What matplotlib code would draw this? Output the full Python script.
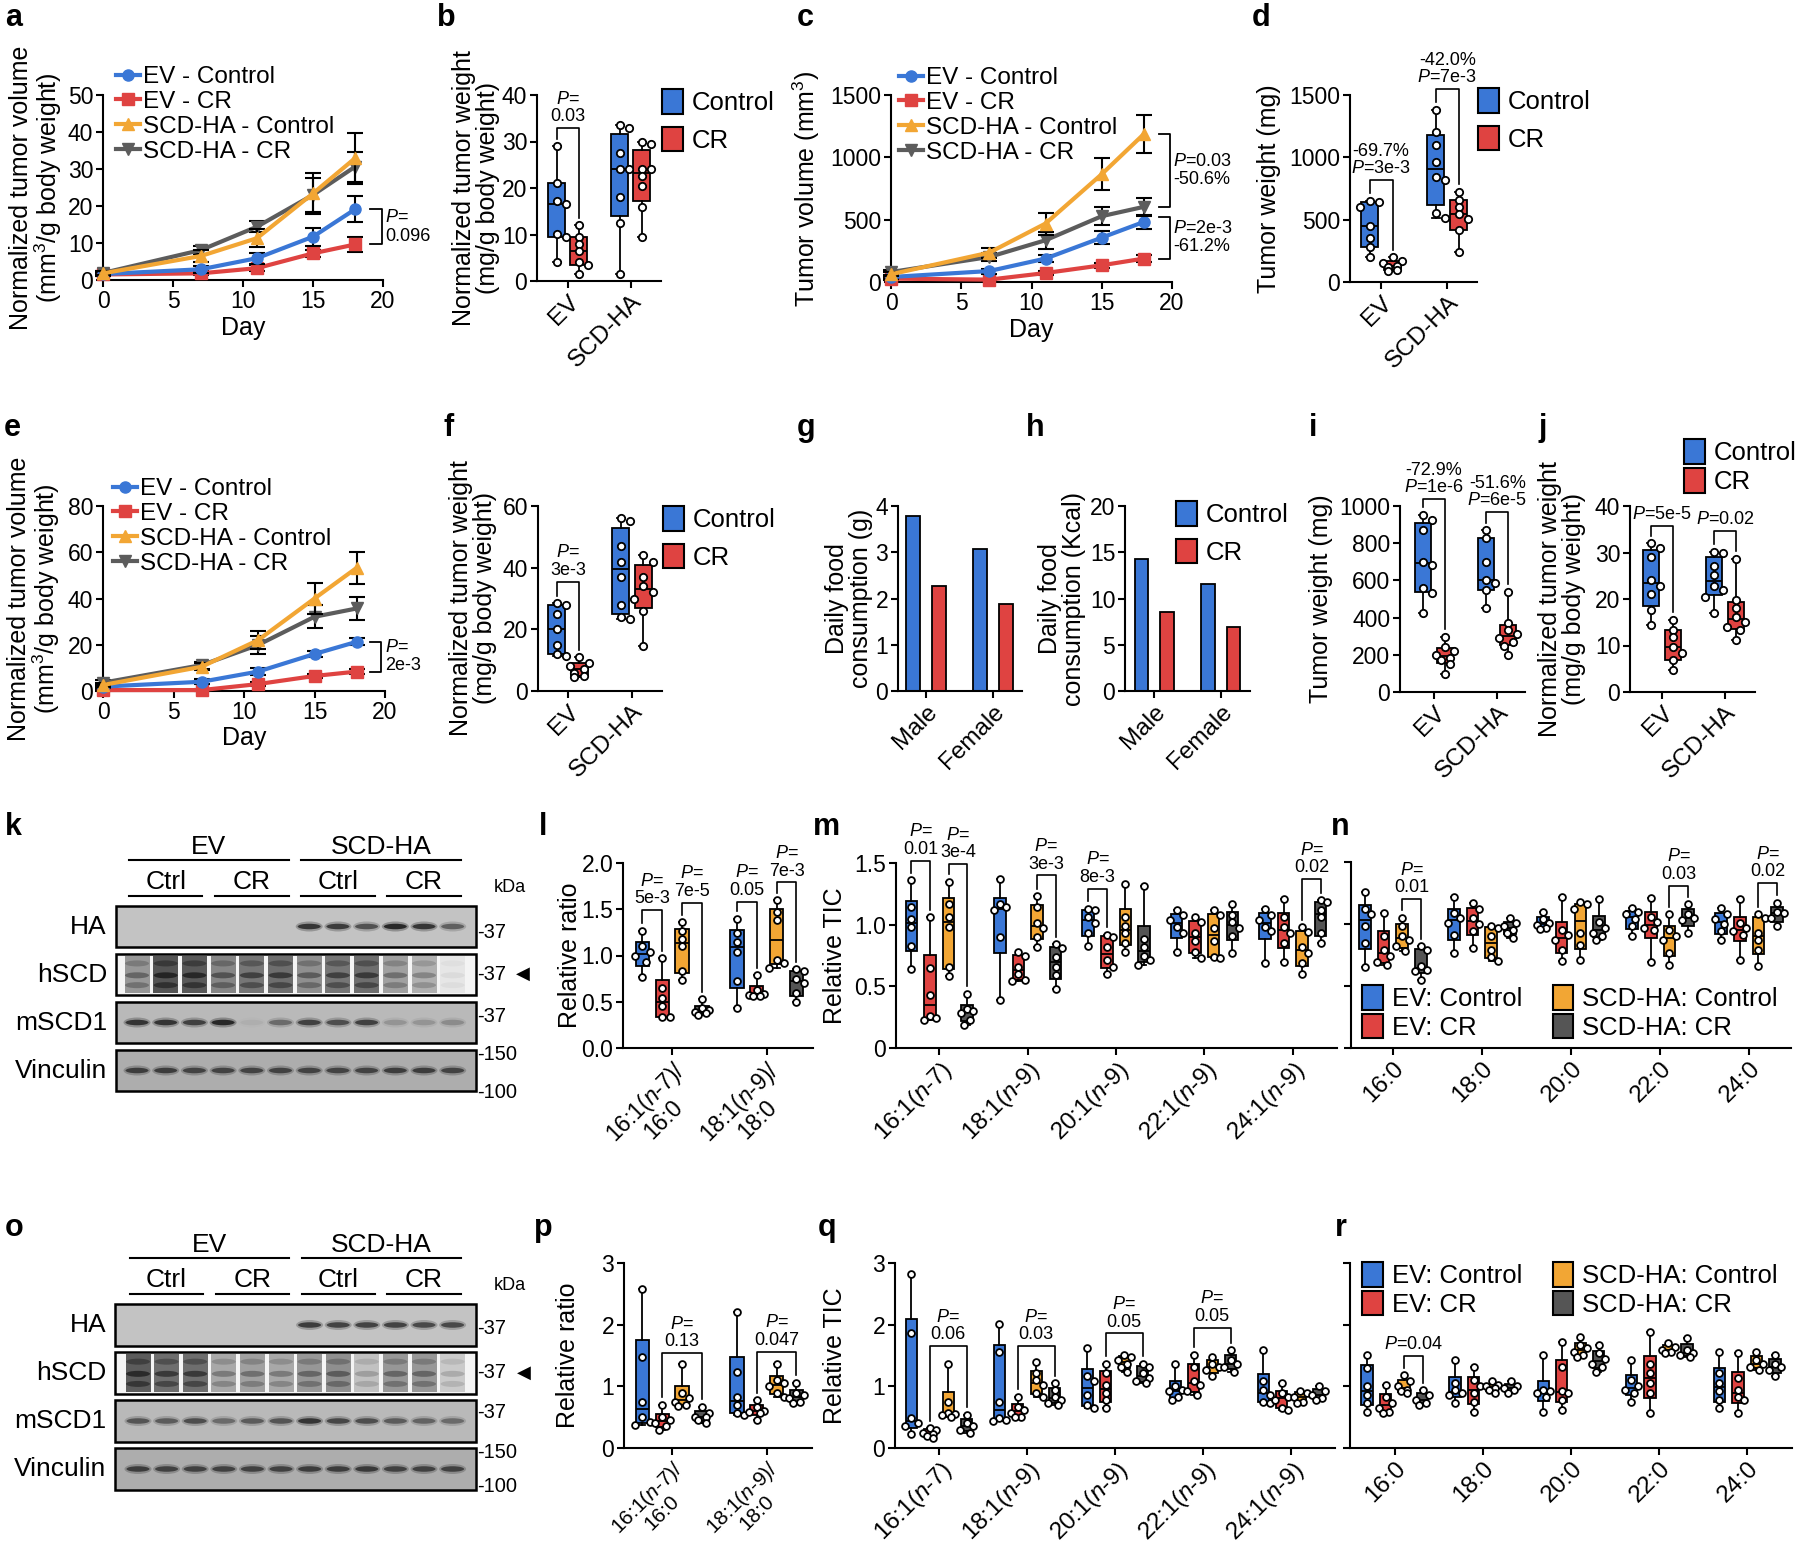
import matplotlib
matplotlib.use("Agg")
import matplotlib.pyplot as plt
import numpy as np
from matplotlib.lines import Line2D
from matplotlib.patches import Patch, Rectangle, Ellipse

plt.rcParams['font.family'] = ['Liberation Sans', 'DejaVu Sans']
plt.rcParams['mathtext.fontset'] = 'custom'
plt.rcParams['mathtext.rm'] = 'Liberation Sans'
plt.rcParams['mathtext.it'] = 'Liberation Sans:italic'
plt.rcParams['axes.linewidth'] = 1.5

W, H = 1800, 1552
BLUE = '#3a77d6'
RED = '#df4341'
ORANGE = '#f2a634'
DGREY = '#555555'
BOX_COLORS = [BLUE, RED, ORANGE, DGREY]

TICK_FS = 16.5
LAB_FS = 18
LEG_FS = 18.5
LINE_LEG_FS = 17.5
P_FS = 13
CAT_FS = 17.5

# ---------------- data ----------------
days = [0, 7, 11, 15, 18]
line_names = ['EV - Control', 'EV - CR', 'SCD-HA - Control', 'SCD-HA - CR']

a_ev_ctrl = [1.6, 2.9, 5.9, 11.7, 19.1]
a_ev_ctrl_err = [0.5, 1.0, 1.5, 2.4, 3.5]
a_ev_cr = [1.5, 1.8, 3.2, 7.2, 9.6]
a_ev_cr_err = [0.4, 0.5, 0.8, 1.0, 1.9]
a_scd_ctrl = [1.8, 6.5, 11.3, 23.4, 32.9]
a_scd_ctrl_err = [0.5, 1.5, 2.5, 5.6, 6.9]
a_scd_cr = [1.9, 8.1, 14.4, 23.0, 30.6]
a_scd_cr_err = [0.5, 1.0, 1.5, 4.5, 4.0]

c_ev_ctrl = [40, 88, 188, 356, 482]
c_ev_ctrl_err = [15, 20, 30, 50, 55]
c_ev_cr = [27, 19, 72, 134, 188]
c_ev_cr_err = [8, 8, 15, 20, 25]
c_scd_ctrl = [62, 236, 469, 865, 1187]
c_scd_ctrl_err = [15, 40, 88, 130, 150]
c_scd_cr = [80, 201, 335, 528, 603]
c_scd_cr_err = [20, 30, 70, 70, 70]

e_ev_ctrl = [1.9, 4.0, 8.4, 16.0, 21.3]
e_ev_ctrl_err = [0.5, 1.0, 1.5, 1.5, 1.5]
e_ev_cr = [0.4, 0.4, 3.0, 6.5, 8.4]
e_ev_cr_err = [0.3, 0.5, 1.0, 1.0, 1.0]
e_scd_ctrl = [2.6, 10.5, 22.0, 40.0, 53.3]
e_scd_ctrl_err = [1.0, 1.5, 4.0, 6.5, 7.0]
e_scd_cr = [3.6, 11.2, 19.9, 32.1, 35.7]
e_scd_cr_err = [1.0, 1.5, 4.0, 5.0, 5.0]

lines_cats = ['EV', 'SCD-HA']
b_ctrl = [[29, 21, 17.2, 16.5, 10.2, 9.5, 4], [33.5, 33, 27.5, 24, 24, 18, 12.5, 1.5]]
b_cr = [[12, 9.5, 8, 6.5, 4, 3.5, 1.5], [30, 29.5, 24, 24, 22.5, 20.5, 16, 9.5]]
d_ctrl = [[650, 640, 600, 450, 350, 280, 200], [1380, 1205, 1100, 965, 840, 820, 550, 510]]
d_cr = [[200, 170, 150, 130, 120, 100, 90], [723, 656, 603, 549, 509, 415, 241]]
f_ctrl = [[28.5, 28, 25, 20, 15, 12, 11.5], [56, 55, 47, 42, 37, 28, 24, 23.5]]
f_cr = [[11, 9, 8, 7, 6, 5, 4.5], [44, 42, 37, 34, 32, 30, 26, 14.5]]
i_ctrl = [[952, 925, 870, 700, 683, 560, 530, 427], [871, 830, 700, 600, 584, 548, 450]]
i_cr = [[297, 240, 220, 200, 185, 170, 150, 95], [540, 370, 335, 310, 290, 270, 250, 200]]
j_ctrl = [[32, 30.9, 29.1, 24, 22.7, 21, 17.6, 14.4], [30.2, 29.8, 27, 25.2, 22.7, 21.9, 20.5, 16.9]]
j_cr = [[15.5, 13.3, 11.9, 9.7, 8.3, 6.9, 4.7], [28.7, 19.8, 18, 16.2, 15.1, 14, 13.3, 11.2]]

sexes = ['Male', 'Female']
g_ctrl = [3.78, 3.08]
g_cr = [2.27, 1.88]
h_ctrl = [14.3, 11.6]
h_cr = [8.5, 6.9]

ratio_cats = [r'16:1($\it{n}$-7)/' + '\n16:0', r'18:1($\it{n}$-9)/' + '\n18:0']
mufa_cats = [r'16:1($\it{n}$-7)', r'18:1($\it{n}$-9)', r'20:1($\it{n}$-9)',
             r'22:1($\it{n}$-9)', r'24:1($\it{n}$-9)']
sfa_cats = ['16:0', '18:0', '20:0', '22:0', '24:0']
group_names = ['EV: Control', 'EV: CR', 'SCD-HA: Control', 'SCD-HA: CR']

l_ev_ctrl = [[1.27, 1.10, 1.04, 1.0, 0.93, 0.77], [1.40, 1.24, 1.15, 1.04, 0.72, 0.43]]
l_ev_cr = [[0.97, 0.65, 0.54, 0.45, 0.34, 0.34], [0.79, 0.63, 0.58, 0.57, 0.56, 0.56]]
l_scd_ctrl = [[1.36, 1.26, 1.18, 1.10, 0.83, 0.74], [1.60, 1.47, 1.38, 0.95, 0.92, 0.86]]
l_scd_cr = [[0.53, 0.43, 0.41, 0.39, 0.38, 0.36], [0.85, 0.83, 0.75, 0.70, 0.59, 0.50]]

m_ev_ctrl = [[1.36, 1.14, 1.05, 0.98, 0.83, 0.64], [1.37, 1.17, 1.14, 1.12, 0.90, 0.39],
             [1.13, 1.12, 1.06, 1.01, 0.93, 0.83], [1.12, 1.08, 1.04, 0.98, 0.93, 0.78],
             [1.13, 1.08, 1.04, 0.98, 0.95, 0.69]]
m_ev_cr = [[1.06, 0.65, 0.43, 0.26, 0.23, 0.24], [0.78, 0.75, 0.66, 0.60, 0.55, 0.54],
           [0.92, 0.90, 0.82, 0.71, 0.66, 0.60], [1.06, 1.02, 0.93, 0.87, 0.78, 0.73],
           [1.21, 1.06, 0.98, 0.93, 0.85, 0.70]]
m_scd_ctrl = [[1.35, 1.17, 1.06, 0.98, 0.66, 0.58], [1.23, 1.14, 1.01, 0.97, 0.90, 0.82],
              [1.33, 1.06, 0.99, 0.93, 0.85, 0.78], [1.12, 1.08, 0.97, 0.87, 0.74, 0.73],
              [0.98, 0.94, 0.82, 0.77, 0.69, 0.60]]
m_scd_cr = [[0.44, 0.32, 0.30, 0.28, 0.23, 0.19], [0.84, 0.81, 0.74, 0.66, 0.59, 0.48],
            [1.31, 0.88, 0.82, 0.75, 0.71, 0.67], [1.17, 1.08, 1.02, 0.97, 0.91, 0.77],
            [1.20, 1.18, 1.12, 1.06, 0.93, 0.85]]

n_ev_ctrl = [[1.26, 1.12, 1.08, 0.98, 0.85, 0.65], [1.22, 1.09, 1.05, 1.01, 0.91, 0.77],
             [1.10, 1.04, 1.01, 0.99, 0.97, 0.96], [1.13, 1.10, 1.08, 1.04, 0.98, 0.90],
             [1.13, 1.08, 1.04, 1.00, 0.94, 0.87]]
n_ev_cr = [[1.09, 0.90, 0.79, 0.74, 0.69, 0.67], [1.17, 1.12, 1.05, 1.00, 0.94, 0.81],
           [1.22, 0.95, 0.91, 0.87, 0.79, 0.70], [1.21, 1.06, 1.02, 0.97, 0.95, 0.69],
           [1.20, 1.01, 0.97, 0.94, 0.91, 0.71]]
n_scd_ctrl = [[1.05, 0.98, 0.90, 0.87, 0.82, 0.78], [0.98, 0.97, 0.90, 0.79, 0.73, 0.70],
              [1.18, 1.16, 1.12, 0.93, 0.83, 0.71], [1.08, 0.95, 0.90, 0.87, 0.77, 0.67],
              [1.08, 1.05, 0.93, 0.87, 0.79, 0.66]]
n_scd_cr = [[0.82, 0.79, 0.66, 0.63, 0.62, 0.55], [1.05, 1.01, 0.98, 0.95, 0.93, 0.89],
            [1.20, 1.02, 0.97, 0.93, 0.90, 0.87], [1.16, 1.08, 1.05, 1.03, 0.93],
            [1.17, 1.10, 1.09, 1.05, 0.98]]

p_ev_ctrl = [[2.58, 1.48, 0.75, 0.50, 0.42, 0.38], [2.21, 1.24, 0.83, 0.70, 0.57, 0.54]]
p_ev_cr = [[0.70, 0.51, 0.46, 0.40, 0.35, 0.30], [0.78, 0.67, 0.60, 0.59, 0.57, 0.46]]
p_scd_ctrl = [[1.36, 0.89, 0.81, 0.75, 0.70, 0.68], [1.37, 1.10, 1.05, 1.00, 0.89, 0.83]]
p_scd_cr = [[0.67, 0.57, 0.51, 0.50, 0.46, 0.40], [1.06, 0.89, 0.86, 0.81, 0.75, 0.73]]

q_ev_ctrl = [[2.82, 1.86, 0.48, 0.40, 0.35, 0.22], [2.01, 1.56, 0.75, 0.48, 0.45, 0.43],
             [1.62, 1.16, 1.08, 0.86, 0.70, 0.65], [1.37, 1.00, 0.94, 0.92, 0.83, 0.78],
             [1.59, 1.08, 0.94, 0.86, 0.75, 0.73]]
q_ev_cr = [[0.32, 0.30, 0.24, 0.22, 0.19, 0.16], [0.83, 0.67, 0.62, 0.57, 0.51, 0.50],
           [1.37, 1.21, 1.02, 0.89, 0.78, 0.65], [1.51, 1.32, 1.08, 1.02, 0.92, 0.86],
           [1.05, 0.89, 0.83, 0.78, 0.65, 0.62]]
q_scd_ctrl = [[1.36, 0.75, 0.57, 0.55, 0.54, 0.51], [1.39, 1.21, 1.10, 1.02, 0.89, 0.83],
              [1.51, 1.48, 1.43, 1.37, 1.32, 1.24], [1.48, 1.37, 1.32, 1.27, 1.16],
              [0.92, 0.89, 0.83, 0.75, 0.73]]
q_scd_cr = [[0.54, 0.40, 0.35, 0.30, 0.24], [1.05, 0.94, 0.83, 0.78, 0.73, 0.70],
            [1.37, 1.32, 1.21, 1.13, 1.08, 1.05], [1.59, 1.43, 1.37, 1.32, 1.24],
            [1.00, 0.92, 0.86, 0.81, 0.78]]

r_ev_ctrl = [[1.51, 1.29, 1.00, 0.86, 0.73, 0.59], [1.43, 1.05, 0.94, 0.89, 0.86, 0.73],
             [1.51, 0.94, 0.92, 0.89, 0.83, 0.59], [1.43, 1.10, 1.00, 0.94, 0.89, 0.75],
             [1.56, 1.21, 1.05, 0.92, 0.78, 0.65]]
r_ev_cr = [[1.02, 0.83, 0.73, 0.65, 0.59, 0.57], [1.32, 1.10, 1.00, 0.89, 0.75, 0.59],
           [1.72, 1.32, 0.92, 0.89, 0.78, 0.62], [1.88, 1.37, 1.21, 1.05, 0.89, 0.57],
           [1.54, 1.13, 0.94, 0.83, 0.78, 0.57]]
r_scd_ctrl = [[1.18, 1.08, 1.00, 0.94, 0.92, 0.89], [1.08, 1.02, 1.00, 0.97, 0.94, 0.89],
              [1.80, 1.67, 1.62, 1.56, 1.51, 1.48], [1.70, 1.64, 1.59, 1.56, 1.54],
              [1.56, 1.43, 1.37, 1.32, 1.27]]
r_scd_cr = [[0.94, 0.86, 0.78, 0.73, 0.70], [1.08, 1.00, 0.97, 0.94, 0.89],
            [1.67, 1.54, 1.45, 1.37, 1.32, 1.24], [1.78, 1.59, 1.54, 1.51, 1.48],
            [1.51, 1.37, 1.32, 1.27, 1.16]]

# western blot band intensities, 12 lanes (EV Ctrl x3, EV CR x3, SCD-HA Ctrl x3, SCD-HA CR x3)
blot_rows = ['HA', 'hSCD', 'mSCD1', 'Vinculin']
k_bands = [[0, 0, 0, 0, 0, 0, 0.85, 0.8, 0.65, 0.95, 0.85, 0.55],
           [0.55, 0.95, 0.92, 0.65, 0.75, 0.8, 0.6, 0.75, 0.8, 0.5, 0.4, 0.08],
           [0.85, 0.85, 0.75, 0.95, 0.05, 0.45, 0.75, 0.65, 0.75, 0.2, 0.2, 0.25],
           [0.75, 0.75, 0.7, 0.7, 0.7, 0.7, 0.7, 0.7, 0.7, 0.75, 0.75, 0.7]]
o_bands = [[0, 0, 0, 0, 0, 0, 0.8, 0.75, 0.75, 0.75, 0.7, 0.7],
           [0.9, 0.8, 0.8, 0.45, 0.5, 0.45, 0.55, 0.6, 0.3, 0.55, 0.55, 0.25],
           [0.6, 0.55, 0.65, 0.45, 0.55, 0.6, 0.85, 0.7, 0.65, 0.55, 0.5, 0.45],
           [0.75, 0.72, 0.72, 0.72, 0.72, 0.72, 0.75, 0.75, 0.78, 0.72, 0.72, 0.72]]
kda_marks = ['-37', '-37', '-37', '-150', '-100']

# ---------------- helpers ----------------
fig = plt.figure(figsize=(W / 100, H / 100), dpi=100)


def add_ax(box):
    l, t, r, b = box
    ax = fig.add_axes([l / W, 1 - b / H, (r - l) / W, (b - t) / H])
    for s in ('top', 'right'):
        ax.spines[s].set_visible(False)
    ax.tick_params(direction='out', length=5, width=1.5, labelsize=TICK_FS, pad=2)
    return ax


def ylab(ax, box, text, right_px, size=LAB_FS):
    l, t, r, b = box
    ax.set_ylabel(text, fontsize=size, linespacing=1.0)
    ax.yaxis.set_label_coords((right_px - l) / (r - l), 0.5)


def fig_anchor(x, y):
    return (x / W, 1 - y / H)


def pstr(txt):
    return txt.replace('P=', r'$\it{P}$=')


def growth(ax, vals, errs, legend_at):
    styles = [(BLUE, 'o', 4), (RED, 's', 3), (ORANGE, '^', 6), ('#5c5c5c', 'v', 5)]
    for v, e, (c, m, z) in zip(vals, errs, styles):
        ax.errorbar(days, v, yerr=e, color=c, marker=m, ms=8, lw=3, ecolor='black',
                    elinewidth=1.5, capsize=6, capthick=1.5, clip_on=False, zorder=z)
    handles = [Line2D([], [], color=c, marker=m, lw=3, ms=8) for c, m, _ in styles]
    ax.legend(handles, line_names, loc='upper left', bbox_to_anchor=fig_anchor(*legend_at),
              bbox_transform=fig.transFigure, frameon=False, fontsize=LINE_LEG_FS,
              handlelength=1.0, handletextpad=0.1, labelspacing=0.12, borderpad=0,
              borderaxespad=0)
    ax.set_xlim(0, 20)
    ax.set_xticks([0, 5, 10, 15, 20])
    ax.set_xlabel('Day', fontsize=LAB_FS, labelpad=2)


def vbracket(ax, x, y1, y2, text, dx=0.8):
    ax.plot([x - dx, x, x, x - dx], [y1, y1, y2, y2], color='black', lw=1.3, clip_on=False)
    ax.text(x + 0.25, (y1 + y2) / 2, pstr(text), fontsize=P_FS, ha='left', va='center',
            linespacing=1.1, clip_on=False)


def spread(v, tol, w):
    off = np.zeros(len(v))
    k = 0
    for i in range(1, len(v)):
        if abs(v[i] - v[i - 1]) < tol:
            k += 1
            off[i] = w * (0.55 if k % 2 else -0.55) * (1 if k < 3 else 0.5)
        else:
            k = 0
    return off


def boxes(ax, series, offsets, width, s=24):
    y0, y1 = ax.get_ylim()
    tol = 0.035 * (y1 - y0)
    for grp, col, off in zip(series, BOX_COLORS, offsets):
        for gi, pts in enumerate(grp):
            v = np.sort(np.asarray(pts, float))[::-1]
            q1, med, q3 = np.percentile(v, [25, 50, 75], method='weibull')
            st = dict(med=med, q1=q1, q3=q3, whislo=v.min(), whishi=v.max(), fliers=[])
            x = gi + off
            ax.bxp([st], positions=[x], widths=width, capwidths=width * 0.45,
                   patch_artist=True, showfliers=False, manage_ticks=False,
                   boxprops=dict(facecolor=col, edgecolor='black', linewidth=1.3),
                   medianprops=dict(color='black', linewidth=1.3),
                   whiskerprops=dict(color='black', linewidth=1.3),
                   capprops=dict(color='black', linewidth=1.3))
            ax.scatter(x + spread(v, tol, width), v, s=s, facecolor='white', edgecolor='black',
                       linewidth=1.3, zorder=5, clip_on=False)


def pbracket(ax, series, offsets, g, i, j, ybar, text, fs=P_FS):
    y0, y1 = ax.get_ylim()
    pad = 0.04 * (y1 - y0)
    xi, xj = g + offsets[i], g + offsets[j]
    li = min(max(series[i][g]) + pad, ybar - pad * 0.6)
    lj = min(max(series[j][g]) + pad, ybar - pad * 0.6)
    ax.plot([xi, xi, xj, xj], [li, ybar, ybar, lj], color='black', lw=1.2, clip_on=False)
    ax.annotate(pstr(text), xy=((xi + xj) / 2, ybar), xytext=(0, 2), textcoords='offset points',
                ha='center', va='bottom', fontsize=fs, linespacing=1.05, annotation_clip=False)


def box_legend(ax, names, at, ncol=1, colspace=0.8, spacing=0.45):
    handles = [Patch(facecolor=c, edgecolor='black', lw=1.5) for c in BOX_COLORS[:len(names)]]
    ax.legend(handles, names, loc='upper left', bbox_to_anchor=fig_anchor(*at),
              bbox_transform=fig.transFigure, frameon=False, fontsize=LEG_FS, ncol=ncol,
              handlelength=0.8, handleheight=1.1, handletextpad=0.35, labelspacing=spacing,
              columnspacing=colspace, borderpad=0, borderaxespad=0)


def cat_ticks(ax, labels, size=CAT_FS):
    ax.set_xticks(range(len(labels)))
    ax.set_xticklabels(labels, rotation=45, ha='right', rotation_mode='anchor', fontsize=size,
                       multialignment='center', linespacing=0.95)


# ---------------- panel letters ----------------
letters = {'a': (5, 18), 'b': (437, 18), 'c': (797, 18), 'd': (1252, 18),
           'e': (4, 428), 'f': (443, 428), 'g': (797, 428), 'h': (1026, 428),
           'i': (1309, 428), 'j': (1538, 428),
           'k': (5, 827), 'l': (539, 827), 'm': (813, 827), 'n': (1331, 827),
           'o': (5, 1228), 'p': (534, 1228), 'q': (818, 1228), 'r': (1335, 1228)}
for key, (x, y) in letters.items():
    fig.text(x / W, 1 - y / H, key, fontsize=22, fontweight='bold', ha='left', va='center')

# ---------------- row 1 ----------------
PA = (103, 95, 383, 280)
ax = add_ax(PA)
growth(ax, [a_ev_ctrl, a_ev_cr, a_scd_ctrl, a_scd_cr],
       [a_ev_ctrl_err, a_ev_cr_err, a_scd_ctrl_err, a_scd_cr_err], (116, 66))
ax.set_ylim(0, 50)
ax.set_yticks(range(0, 51, 10))
vbracket(ax, 19.9, a_ev_ctrl[-1], a_ev_cr[-1], 'P=\n0.096')
ylab(ax, PA, 'Normalized tumor volume\n(mm$^3$/g body weight)', 64)

two_off = [-0.175, 0.175]

PB = (537, 95, 661, 281)
ax = add_ax(PB)
ax.set_xlim(-0.49, 1.48)
ax.set_ylim(0, 40)
ax.set_yticks(range(0, 41, 10))
boxes(ax, [b_ctrl, b_cr], two_off, 0.27, s=28)
pbracket(ax, [b_ctrl, b_cr], two_off, 0, 0, 1, 32.9, 'P=\n0.03')
cat_ticks(ax, lines_cats)
box_legend(ax, ['Control', 'CR'], (662, 89))
ylab(ax, PB, 'Normalized tumor weight\n(mg/g body weight)', 500)

PC = (891, 95, 1172, 282)
ax = add_ax(PC)
growth(ax, [c_ev_ctrl, c_ev_cr, c_scd_ctrl, c_scd_cr],
       [c_ev_ctrl_err, c_ev_cr_err, c_scd_ctrl_err, c_scd_cr_err], (899, 67))
ax.set_ylim(0, 1500)
ax.set_yticks([0, 500, 1000, 1500])
vbracket(ax, 19.85, c_scd_ctrl[-1], c_scd_cr[-1], 'P=0.03\n-50.6%')
vbracket(ax, 19.85, c_ev_ctrl[-1] + 40, c_ev_cr[-1], 'P=2e-3\n-61.2%')
ylab(ax, PC, 'Tumor volume (mm$^3$)', 822)

PD = (1350, 95, 1477, 282)
ax = add_ax(PD)
ax.set_xlim(-0.47, 1.45)
ax.set_ylim(0, 1500)
ax.set_yticks([0, 500, 1000, 1500])
boxes(ax, [d_ctrl, d_cr], two_off, 0.26, s=28)
pbracket(ax, [d_ctrl, d_cr], two_off, 0, 0, 1, 818, '-69.7%\nP=3e-3')
pbracket(ax, [d_ctrl, d_cr], two_off, 1, 0, 1, 1548, '-42.0%\nP=7e-3')
cat_ticks(ax, lines_cats)
box_legend(ax, ['Control', 'CR'], (1478, 88))
ylab(ax, PD, 'Tumor weight (mg)', 1281)

# ---------------- row 2 ----------------
PE = (103, 506, 385, 691)
ax = add_ax(PE)
growth(ax, [e_ev_ctrl, e_ev_cr, e_scd_ctrl, e_scd_cr],
       [e_ev_ctrl_err, e_ev_cr_err, e_scd_ctrl_err, e_scd_cr_err], (113, 478))
ax.set_ylim(0, 80)
ax.set_yticks(range(0, 81, 20))
vbracket(ax, 19.75, e_ev_ctrl[-1], e_ev_cr[-1], 'P=\n2e-3')
ylab(ax, PE, 'Normalized tumor volume\n(mm$^3$/g body weight)', 62)

PF = (538, 506, 662, 691)
ax = add_ax(PF)
ax.set_xlim(-0.47, 1.47)
ax.set_ylim(0, 60)
ax.set_yticks(range(0, 61, 20))
boxes(ax, [f_ctrl, f_cr], two_off, 0.27, s=28)
pbracket(ax, [f_ctrl, f_cr], two_off, 0, 0, 1, 35.4, 'P=\n3e-3')
cat_ticks(ax, lines_cats)
box_legend(ax, ['Control', 'CR'], (663, 506))
ylab(ax, PF, 'Normalized tumor weight\n(mg/g body weight)', 497)

PG = (898, 506, 1022, 691)
ax = add_ax(PG)
xs = np.arange(len(sexes))
ax.bar(xs - 0.19, g_ctrl, 0.21, color=BLUE, edgecolor='black', lw=1.3)
ax.bar(xs + 0.19, g_cr, 0.21, color=RED, edgecolor='black', lw=1.3)
ax.set_xlim(-0.42, 1.43)
ax.set_ylim(0, 4)
ax.set_yticks(range(0, 5))
cat_ticks(ax, sexes)
ylab(ax, PG, 'Daily food\nconsumption (g)', 873)

PH = (1125, 506, 1250, 691)
ax = add_ax(PH)
ax.bar(xs - 0.19, h_ctrl, 0.2, color=BLUE, edgecolor='black', lw=1.3)
ax.bar(xs + 0.19, h_cr, 0.2, color=RED, edgecolor='black', lw=1.3)
ax.set_xlim(-0.44, 1.44)
ax.set_ylim(0, 20)
ax.set_yticks(range(0, 21, 5))
cat_ticks(ax, sexes)
box_legend(ax, ['Control', 'CR'], (1176, 501))
ylab(ax, PH, 'Daily food\nconsumption (Kcal)', 1086)

PI = (1400, 506, 1525, 692)
ax = add_ax(PI)
ax.set_xlim(-0.54, 1.44)
ax.set_ylim(0, 1000)
ax.set_yticks(range(0, 1001, 200))
boxes(ax, [i_ctrl, i_cr], two_off, 0.26, s=28)
pbracket(ax, [i_ctrl, i_cr], two_off, 0, 0, 1, 1038, '-72.9%\nP=1e-6')
pbracket(ax, [i_ctrl, i_cr], two_off, 1, 0, 1, 968, '-51.6%\nP=6e-5')
cat_ticks(ax, lines_cats)
ylab(ax, PI, 'Tumor weight (mg)', 1333)

PJ = (1630, 506, 1755, 692)
ax = add_ax(PJ)
ax.set_xlim(-0.51, 1.48)
ax.set_ylim(0, 40)
ax.set_yticks(range(0, 41, 10))
boxes(ax, [j_ctrl, j_cr], two_off, 0.26, s=28)
pbracket(ax, [j_ctrl, j_cr], two_off, 0, 0, 1, 35.7, 'P=5e-5')
pbracket(ax, [j_ctrl, j_cr], two_off, 1, 0, 1, 34.6, 'P=0.02')
cat_ticks(ax, lines_cats)
box_legend(ax, ['Control', 'CR'], (1684, 439), spacing=0.12)
ylab(ax, PJ, 'Normalized tumor weight\n(mg/g body weight)', 1586)

# ---------------- blots ----------------
bax = fig.add_axes([0, 0, 1, 1], zorder=-1)
bax.set_xlim(0, W)
bax.set_ylim(H, 0)
bax.axis('off')


def draw_blot(x0, x1, tops, rh, lane0, dlane, bands, hdr_y, kda_y, mark_y, arrow_x):
    lanes = lane0 + dlane * np.arange(len(bands[0]))
    bgs = ['#c3c3c3', '#f4f4f4', '#b9b9b9', '#adadad']
    for r, (top, inten) in enumerate(zip(tops, bands)):
        bax.add_patch(Rectangle((x0, top), x1 - x0, rh, facecolor=bgs[r], edgecolor='black',
                                lw=1.8, zorder=1))
        yc = top + rh * 0.5
        bax.text(x0 - 9, yc, blot_rows[r], ha='right', va='center', fontsize=19)
        for xl, v in zip(lanes, inten):
            if r == 1:
                bax.add_patch(Rectangle((xl - 12.5, top + 2), 25, rh - 4, facecolor='#222222',
                                        alpha=0.8 * v, lw=0, zorder=2))
                for dy, a in ((-0.27, 0.35), (0.02, 0.6), (0.26, 0.45)):
                    bax.add_patch(Ellipse((xl, yc + dy * rh), 24, 6, facecolor='black',
                                          alpha=a * v, lw=0, zorder=3))
            elif v > 0:
                bax.add_patch(Ellipse((xl, yc), 27, 10, facecolor='#111111', alpha=0.3 * v,
                                      lw=0, zorder=2))
                bax.add_patch(Ellipse((xl, yc), 23, 5.5, facecolor='#111111', alpha=0.85 * v,
                                      lw=0, zorder=3))
    # headers
    for gi, name in enumerate(['EV', 'SCD-HA']):
        xa, xb = lanes[6 * gi] - 8, lanes[6 * gi + 5] + 8
        bax.plot([xa, xb], [hdr_y + 13, hdr_y + 13], color='black', lw=1.5)
        bax.text((xa + xb) / 2, hdr_y, name, ha='center', va='center', fontsize=19)
    for si, name in enumerate(['Ctrl', 'CR', 'Ctrl', 'CR']):
        xa, xb = lanes[3 * si] - 8, lanes[3 * si + 2] + 8
        bax.plot([xa, xb], [hdr_y + 49, hdr_y + 49], color='black', lw=1.5)
        bax.text((xa + xb) / 2, hdr_y + 35, name, ha='center', va='center', fontsize=19)
    bax.text(x1 + 18, kda_y, 'kDa', ha='left', va='center', fontsize=13)
    for txt, y in zip(kda_marks, mark_y):
        bax.text(x1 + 1, y, txt, ha='left', va='center', fontsize=14.5)
    bax.text(arrow_x, mark_y[1], '\u25C0', ha='center', va='center', fontsize=13)


draw_blot(116, 476, [906, 954, 1002, 1050], 41, 137, 28.7, k_bands, 847, 887,
          [932, 974, 1017, 1055, 1092], 523)
draw_blot(115, 476, [1304, 1352, 1400, 1448], 42, 138, 28.6, o_bands, 1245, 1286,
          [1328, 1373, 1413, 1453, 1487], 524)

# ---------------- lipid panels ----------------
four_off = [-0.315, -0.105, 0.105, 0.315]

PL = (623, 863, 813, 1048)
ax = add_ax(PL)
ax.set_xlim(-0.52, 1.49)
ax.set_ylim(0, 2)
ax.set_yticks([0, 0.5, 1.0, 1.5, 2.0])
ax.set_yticklabels(['0.0', '0.5', '1.0', '1.5', '2.0'])
l_series = [l_ev_ctrl, l_ev_cr, l_scd_ctrl, l_scd_cr]
boxes(ax, l_series, four_off, 0.14)
pbracket(ax, l_series, four_off, 0, 0, 1, 1.49, 'P=\n5e-3')
pbracket(ax, l_series, four_off, 0, 2, 3, 1.57, 'P=\n7e-5')
pbracket(ax, l_series, four_off, 1, 0, 1, 1.58, 'P=\n0.05')
pbracket(ax, l_series, four_off, 1, 2, 3, 1.79, 'P=\n7e-3')
cat_ticks(ax, ratio_cats, 16.5)
ylab(ax, PL, 'Relative ratio', 582)

PM = (896, 863, 1337, 1048)
ax = add_ax(PM)
ax.set_xlim(-0.49, 4.5)
ax.set_ylim(0, 1.5)
ax.set_yticks([0, 0.5, 1.0, 1.5])
ax.set_yticklabels(['0', '0.5', '1.0', '1.5'])
m_series = [m_ev_ctrl, m_ev_cr, m_scd_ctrl, m_scd_cr]
boxes(ax, m_series, four_off, 0.13)
pbracket(ax, m_series, four_off, 0, 0, 1, 1.52, 'P=\n0.01')
pbracket(ax, m_series, four_off, 0, 2, 3, 1.49, 'P=\n3e-4')
pbracket(ax, m_series, four_off, 1, 2, 3, 1.40, 'P=\n3e-3')
pbracket(ax, m_series, four_off, 2, 0, 1, 1.29, 'P=\n8e-3')
pbracket(ax, m_series, four_off, 4, 2, 3, 1.37, 'P=\n0.02')
cat_ticks(ax, mufa_cats)
ylab(ax, PM, 'Relative TIC', 847)

PN = (1351, 862, 1791, 1048)
ax = add_ax(PN)
ax.set_xlim(-0.47, 4.47)
ax.set_ylim(0, 1.5)
ax.set_yticks([0, 0.5, 1.0, 1.5])
ax.set_yticklabels([])
n_series = [n_ev_ctrl, n_ev_cr, n_scd_ctrl, n_scd_cr]
boxes(ax, n_series, four_off, 0.13)
pbracket(ax, n_series, four_off, 0, 2, 3, 1.20, 'P=\n0.01')
pbracket(ax, n_series, four_off, 3, 2, 3, 1.31, 'P=\n0.03')
pbracket(ax, n_series, four_off, 4, 2, 3, 1.33, 'P=\n0.02')
cat_ticks(ax, sfa_cats)
box_legend(ax, group_names, (1362, 985), ncol=2, colspace=1.2, spacing=0.1)

PP = (624, 1263, 812, 1448)
ax = add_ax(PP)
ax.set_xlim(-0.51, 1.48)
ax.set_ylim(0, 3)
ax.set_yticks([0, 1, 2, 3])
p_series = [p_ev_ctrl, p_ev_cr, p_scd_ctrl, p_scd_cr]
boxes(ax, p_series, four_off, 0.14)
pbracket(ax, p_series, four_off, 0, 1, 3, 1.54, 'P=\n0.13')
pbracket(ax, p_series, four_off, 1, 1, 3, 1.56, 'P=\n0.047')
cat_ticks(ax, ratio_cats, 15)
ylab(ax, PP, 'Relative ratio', 580)

PQ = (895, 1263, 1335, 1448)
ax = add_ax(PQ)
ax.set_xlim(-0.5, 4.5)
ax.set_ylim(0, 3)
ax.set_yticks([0, 1, 2, 3])
q_series = [q_ev_ctrl, q_ev_cr, q_scd_ctrl, q_scd_cr]
boxes(ax, q_series, four_off, 0.13)
pbracket(ax, q_series, four_off, 0, 1, 3, 1.65, 'P=\n0.06')
pbracket(ax, q_series, four_off, 1, 1, 3, 1.65, 'P=\n0.03')
pbracket(ax, q_series, four_off, 2, 1, 3, 1.86, 'P=\n0.05')
pbracket(ax, q_series, four_off, 3, 1, 3, 1.95, 'P=\n0.05')
cat_ticks(ax, mufa_cats)
ylab(ax, PQ, 'Relative TIC', 847)

PR = (1350, 1263, 1792, 1448)
ax = add_ax(PR)
ax.set_xlim(-0.51, 4.51)
ax.set_ylim(0, 3)
ax.set_yticks([0, 1, 2, 3])
ax.set_yticklabels([])
r_series = [r_ev_ctrl, r_ev_cr, r_scd_ctrl, r_scd_cr]
boxes(ax, r_series, four_off, 0.13)
pbracket(ax, r_series, four_off, 0, 2, 3, 1.49, 'P=0.04')
cat_ticks(ax, sfa_cats)
box_legend(ax, group_names, (1362, 1262), ncol=2, colspace=1.2, spacing=0.1)

fig.savefig('out.png', dpi=100)
